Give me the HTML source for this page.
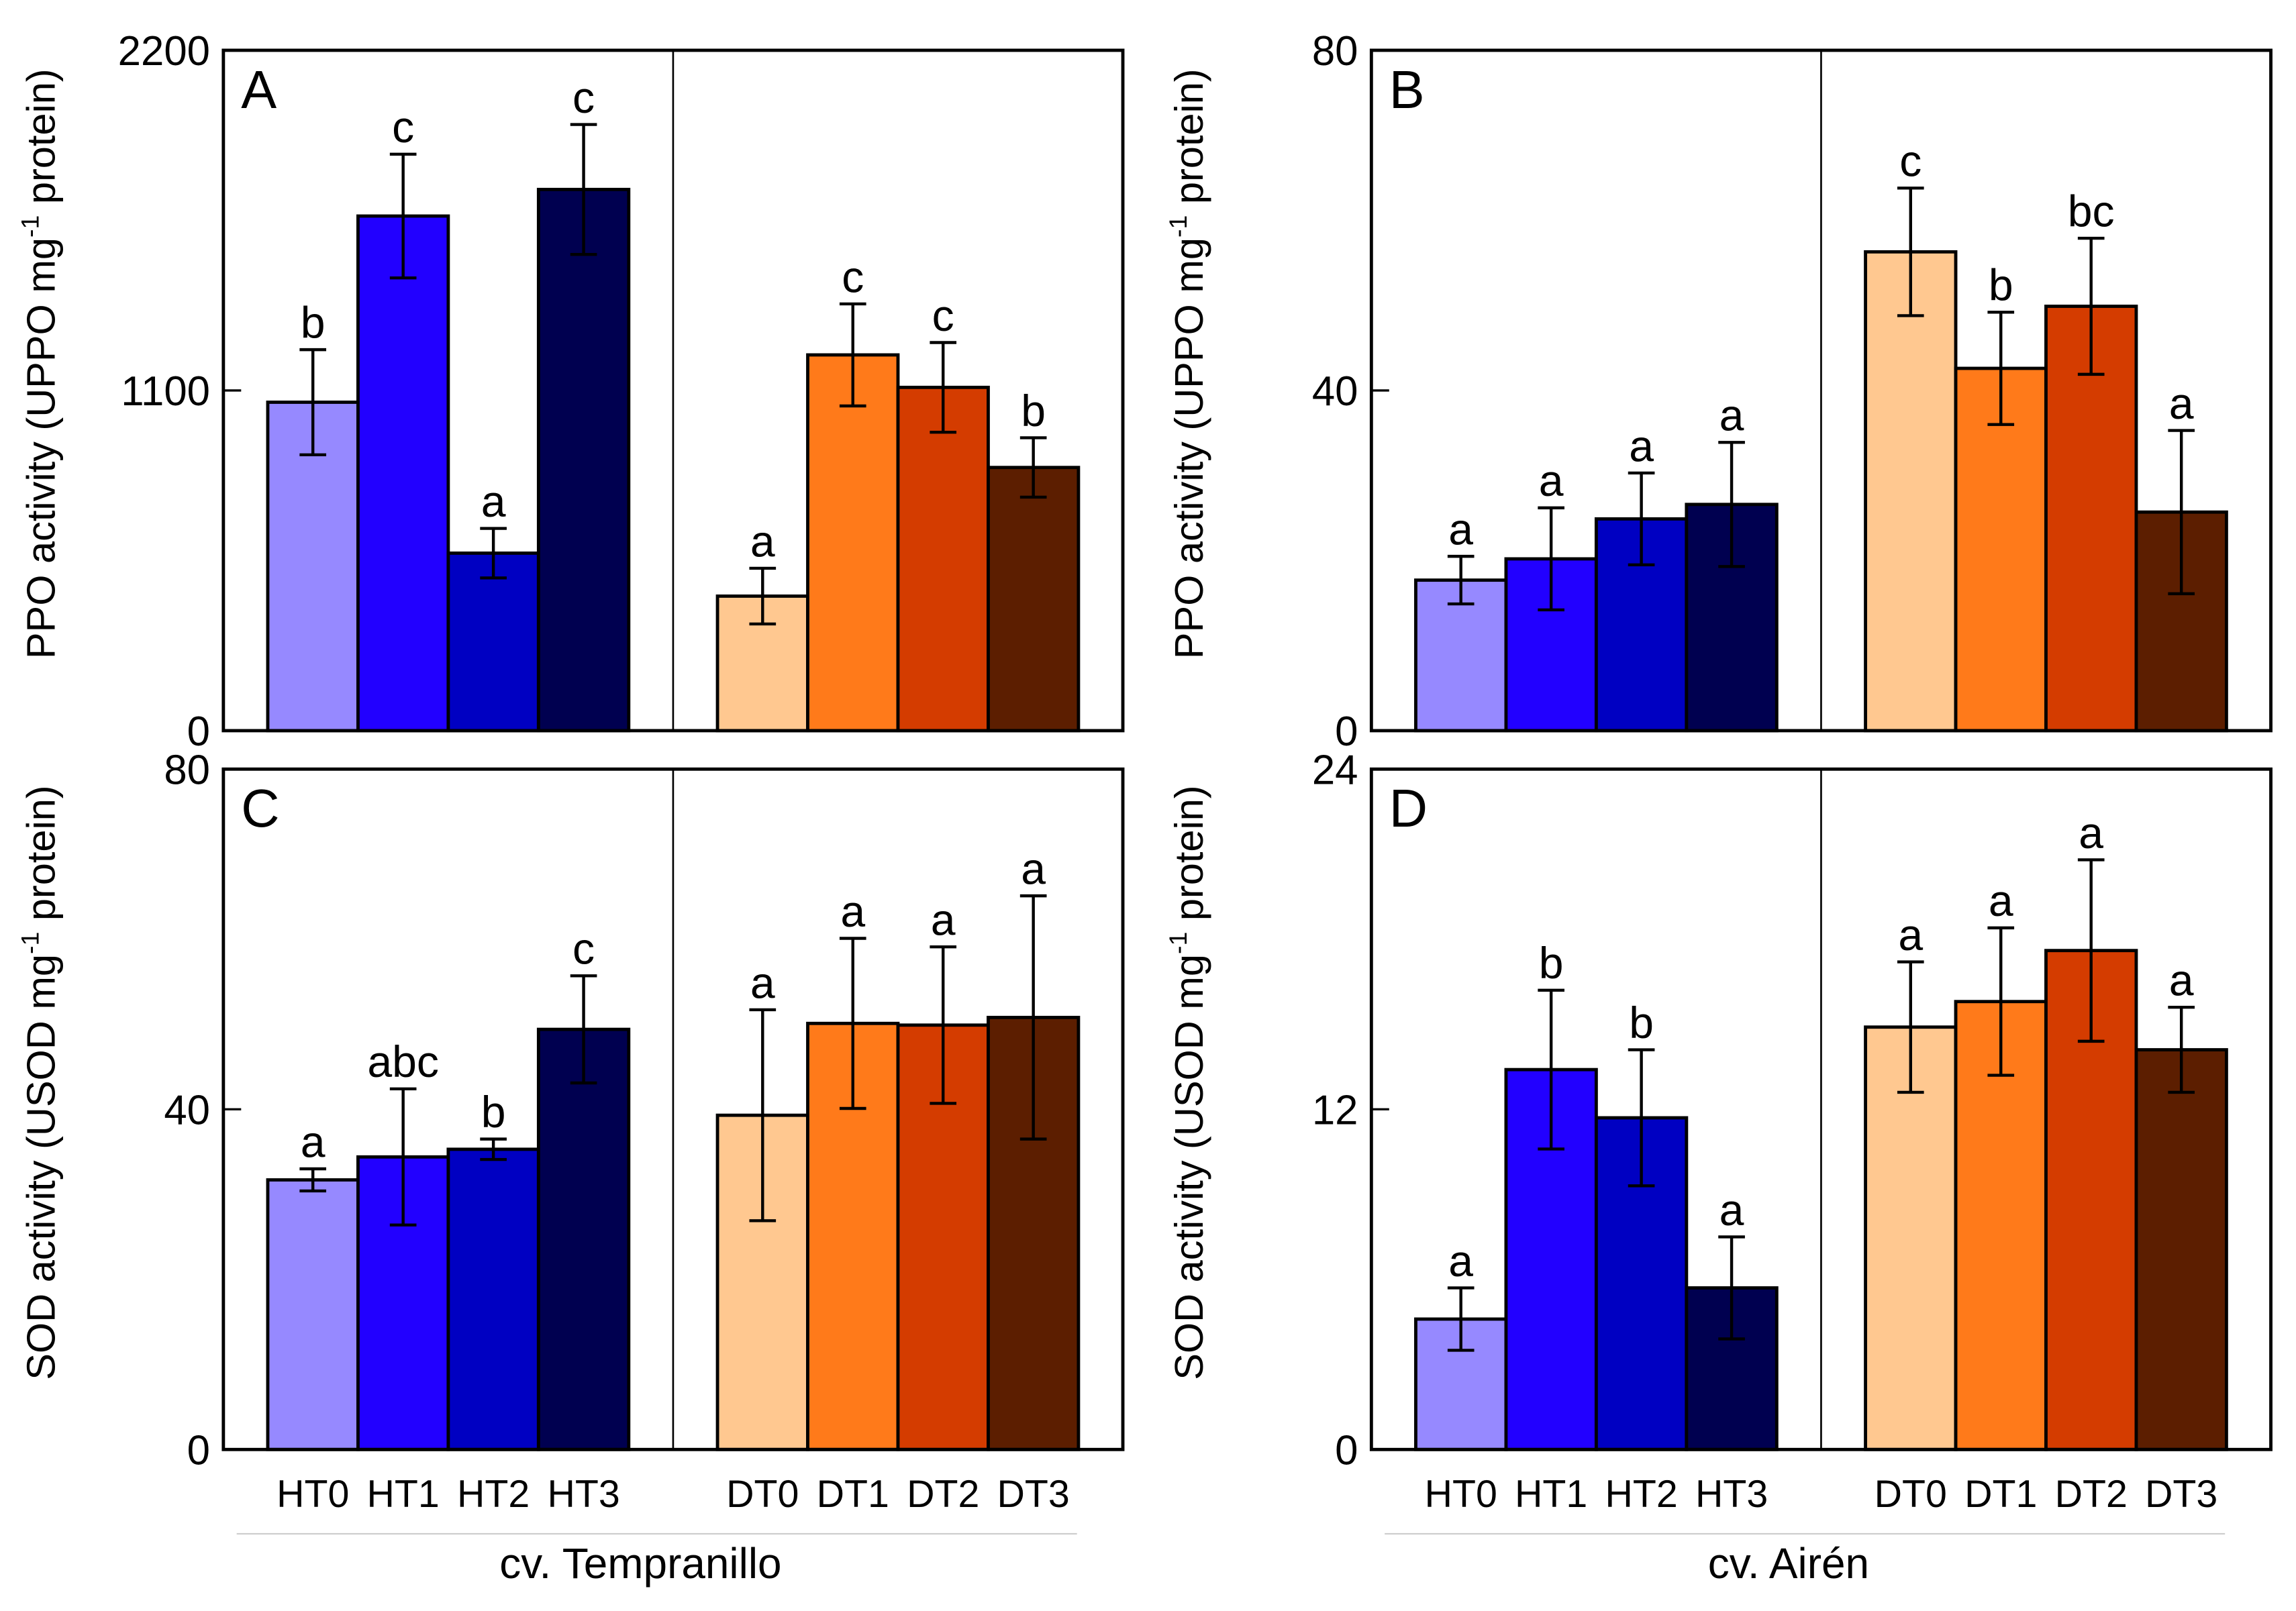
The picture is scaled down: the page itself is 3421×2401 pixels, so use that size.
<!DOCTYPE html>
<html><head><meta charset="utf-8"><style>
html,body{margin:0;padding:0;background:#fff}
svg{display:block}
text{font-family:"Liberation Sans",sans-serif;fill:#000}
</style></head><body>
<svg id="chart" width="3421" height="2401" viewBox="0 0 1552 1089.2" preserveAspectRatio="none" xmlns="http://www.w3.org/2000/svg"></svg>
<script>
const categories = ["HT0","HT1","HT2","HT3","DT0","DT1","DT2","DT3"];
const colors = ["#9689ff","#2200ff","#0000c2","#000050","#ffc890","#ff7a1a","#d43c00","#5c1e00"];
const valuesA = [1062,1664,574,1750,435,1215,1110,851];
const errorsA = [170,200,80,210,90,165,145,96];
const lettersA = ["b","c","a","c","a","c","c","b"];
const valuesB = [17.7,20.2,24.9,26.6,56.3,42.6,49.9,25.7];
const errorsB = [2.8,6,5.4,7.3,7.5,6.6,8,9.6];
const lettersB = ["a","a","a","a","c","b","bc","a"];
const valuesC = [31.7,34.4,35.3,49.4,39.3,50.1,49.9,50.8];
const errorsC = [1.3,8,1.2,6.3,12.4,10,9.2,14.3];
const lettersC = ["a","abc","b","c","a","a","a","a"];
const valuesD = [4.6,13.4,11.7,5.7,14.9,15.8,17.6,14.1];
const errorsD = [1.1,2.8,2.4,1.8,2.3,2.6,3.2,1.5];
const lettersD = ["a","b","b","a","a","a","a","a"];
const ticksA = [0,1100,2200];
const ticksB = [0,40,80];
const ticksC = [0,40,80];
const ticksD = [0,12,24];

const NS="http://www.w3.org/2000/svg";
const svg=document.getElementById('chart');
function mk(tag,attrs,parent){const e=document.createElementNS(NS,tag);for(const k in attrs)e.setAttribute(k,attrs[k]);(parent||svg).appendChild(e);return e;}

function panel(key,label,left,top,vals,errs,letters,ticks,ytitle,showX,cv){
  const right=left+608, bottom=top+460, divider=left+304;
  const g=mk('g',{});
  
  
  const ymax=ticks[ticks.length-1];
  const y=v=>bottom-v/ymax*460;
  const barX=i=>(i<4?left+30+i*61:left+334+(i-4)*61);
  vals.forEach((v,i)=>{
    const r=mk('rect',{x:barX(i),y:y(v),width:61,height:bottom-y(v),fill:colors[i],stroke:'#000','stroke-width':2.2},g);
    
    
    const cx=barX(i)+30.5, e=errs[i];
    const eb=mk('path',{d:`M${cx},${y(v+e)}V${y(v-e)}M${cx-9},${y(v+e)}H${cx+9}M${cx-9},${y(v-e)}H${cx+9}`,stroke:'#000','stroke-width':2,fill:'none'},g);
    
    
    const t=mk('text',{x:cx,y:y(v+e)-8,'font-size':30,'text-anchor':'middle'},g);
    t.textContent=letters[i];
    
    
  });
  const fr=mk('rect',{x:left,y:top,width:608,height:460,fill:'none',stroke:'#000','stroke-width':2.2},g);
  
  
  mk('line',{x1:divider,y1:top,x2:divider,y2:bottom,stroke:'#000','stroke-width':1.2},g);
  ticks.forEach(tv=>{
    const tt=mk('text',{x:left-9,y:y(tv)+10,'font-size':28,'text-anchor':'end'},g);
    tt.textContent=tv;
    
    
    if(tv!==0&&tv!==ymax) mk('line',{x1:left,y1:y(tv),x2:left+12,y2:y(tv),stroke:'#000','stroke-width':1.5},g);
  });
  const pl=mk('text',{x:left+12,y:top+39,'font-size':36},g);
  pl.textContent=label;
  
  
  const cyT=top+212, cxT=left-114;
  const yt=mk('text',{x:cxT,y:cyT,'font-size':27,'text-anchor':'middle',transform:`rotate(-90 ${cxT} ${cyT})`},g);
  yt.innerHTML=ytitle;
  
  
  if(showX){
    categories.forEach((c,i)=>{
      const xt=mk('text',{x:barX(i)+30.5,y:bottom+39,'font-size':26,'text-anchor':'middle'},g);
      xt.textContent=c;
      
      
    });
    mk('line',{x1:left+9,y1:bottom+57,x2:left+577,y2:bottom+57,stroke:'#ccc','stroke-width':1},g);
    const ct=mk('text',{x:left+282,y:bottom+87,'font-size':29,'text-anchor':'middle'},g);
    ct.textContent=cv;
    
    
  }
}
const ppo='PPO activity (UPPO mg<tspan font-size="17" dy="-11">-1</tspan><tspan dy="11"> protein)</tspan>';
const sod='SOD activity (USOD mg<tspan font-size="17" dy="-11">-1</tspan><tspan dy="11"> protein)</tspan>';
panel('a','A',151,34,valuesA,errorsA,lettersA,ticksA,ppo,false,'');
panel('b','B',927,34,valuesB,errorsB,lettersB,ticksB,ppo,false,'');
panel('c','C',151,520,valuesC,errorsC,lettersC,ticksC,sod,true,'cv. Tempranillo');
panel('d','D',927,520,valuesD,errorsD,lettersD,ticksD,sod,true,'cv. Airén');
</script>
</body></html>
